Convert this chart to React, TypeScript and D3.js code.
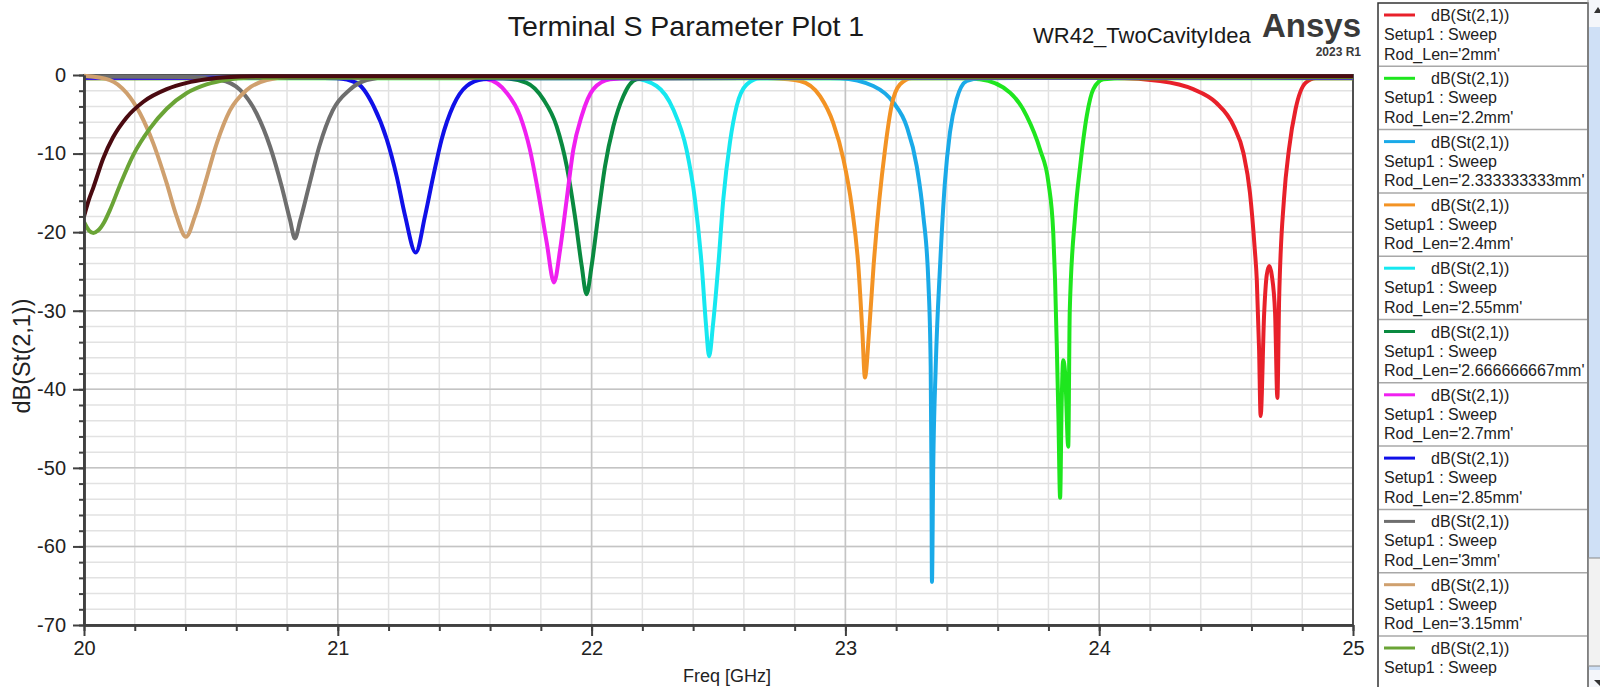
import React, { useEffect, useRef } from "react";
import * as d3 from "d3";

const width = 1600;
const height = 687;
const plotLeft = 84;
const plotRight = 1353;
const plotTop = 75;
const plotBottom = 625;
const font = "'Liberation Sans', Arial, sans-serif";

const freqTicks = [20, 21, 22, 23, 24, 25];
const dbTicks = [0, -10, -20, -30, -40, -50, -60, -70];

// [Freq GHz, dB(St(2,1))]
const rod2mm = [
  [20, -0.4], [24.07, -0.38], [24.24, -0.76], [24.37, -1.8], [24.46, -3.5], [24.53, -6.5],
  [24.568, -9.9], [24.594, -15], [24.613, -22.2], [24.621, -26.1], [24.63, -35], [24.636, -43.4],
  [24.65, -30.3], [24.66, -25.5], [24.67, -24.3], [24.68, -25.5], [24.693, -30.3], [24.702, -41.1],
  [24.709, -28.5], [24.728, -15.8], [24.748, -9.4], [24.774, -4.3], [24.813, -1.0], [24.853, -0.4],
  [25, -0.4],
];
const rod2p2mm = [
  [20, -0.4], [23.45, -0.4], [23.53, -0.55], [23.649, -2.25], [23.714, -5.2], [23.767, -9.5],
  [23.8, -13.7], [23.819, -20.1], [23.826, -26], [23.833, -34.6], [23.839, -43], [23.846, -53.8],
  [23.852, -42], [23.858, -36.3], [23.866, -38], [23.878, -47.3], [23.884, -30], [23.905, -18],
  [23.925, -11.6], [23.951, -5.2], [23.977, -1.8], [24.017, -0.55], [24.1, -0.4], [25, -0.4],
];
const rod2p333mm = [
  [20, -0.35], [22.9, -0.35], [22.979, -0.4], [23.11, -1.4], [23.189, -3.5], [23.241, -6.5],
  [23.281, -11.6], [23.307, -17.9], [23.327, -26.4], [23.336, -37], [23.339, -50], [23.341, -64.5],
  [23.346, -50], [23.356, -37], [23.373, -24.3], [23.392, -13.7], [23.412, -7.3], [23.438, -3.1],
  [23.478, -0.76], [23.53, -0.4], [25, -0.35],
];
const rod2p4mm = [
  [20, -0.35], [22.65, -0.35], [22.716, -0.4], [22.821, -0.76], [22.9, -2.7], [22.952, -6.1],
  [22.992, -10.7], [23.025, -16.7], [23.051, -24.3], [23.067, -32.8], [23.077, -38.5], [23.093, -32.8],
  [23.111, -24.3], [23.134, -15.8], [23.156, -9.5], [23.182, -3.9], [23.215, -1.2], [23.261, -0.4],
  [25, -0.35],
];
const rod2p55mm = [
  [20, -0.35], [22.1, -0.35], [22.164, -0.4], [22.256, -1.4], [22.322, -4.4], [22.374, -9.5],
  [22.407, -15.8], [22.434, -24.3], [22.451, -31.9], [22.463, -35.8], [22.478, -31.9], [22.499, -24.3],
  [22.519, -15.8], [22.545, -8.6], [22.572, -3.9], [22.611, -1.2], [22.664, -0.4], [25, -0.35],
];
const rod2p667mm = [
  [20, -0.35], [21.6, -0.35], [21.652, -0.4], [21.744, -1.0], [21.81, -3.1], [21.862, -6.5],
  [21.902, -11.6], [21.934, -17.9], [21.961, -24.3], [21.98, -27.9], [22.0, -24.3], [22.026, -17.9],
  [22.053, -11.6], [22.086, -6.5], [22.125, -2.7], [22.178, -0.55], [22.25, -0.4], [25, -0.35],
];
const rod2p7mm = [
  [20, -0.35], [21.5, -0.35], [21.587, -0.55], [21.665, -2.25], [21.718, -5.2], [21.757, -9.5],
  [21.79, -15], [21.823, -21.3], [21.852, -26.4], [21.876, -22.2], [21.902, -15.8], [21.928, -9.5],
  [21.961, -5.2], [22.007, -1.8], [22.073, -0.55], [22.15, -0.4], [25, -0.35],
];
const rod2p85mm = [
  [20, -0.35], [20.9, -0.35], [20.996, -0.4], [21.074, -1.0], [21.14, -3.9], [21.193, -8.2],
  [21.232, -12.9], [21.265, -17.9], [21.307, -22.6], [21.344, -17.9],
  [21.376, -12.9], [21.409, -8.2], [21.455, -3.9], [21.508, -1.4], [21.573, -0.55], [21.65, -0.4],
  [25, -0.35],
];
const rod3mm = [
  [20, -0.2], [20.4, -0.25], [20.536, -0.64], [20.615, -1.9], [20.68, -4.9], [20.733, -9.1],
  [20.779, -14.2], [20.812, -18.5], [20.831, -20.8], [20.852, -18.5], [20.886, -14.2], [20.927, -9.1],
  [20.98, -4.5], [21.046, -1.9], [21.114, -0.64], [21.206, -0.25], [25, -0.25],
];
const rod3p15mm = [
  [20, -0.1], [20.102, -0.64], [20.168, -2.3], [20.221, -4.9], [20.273, -8.7], [20.326, -13.8],
  [20.365, -18], [20.402, -20.6], [20.437, -18], [20.477, -13.8],
  [20.523, -8.7], [20.575, -4.5], [20.641, -1.9], [20.72, -0.64], [20.812, -0.25], [25, -0.25],
];
const rodOlive = [
  [20, -18.7], [20.02, -19.8], [20.037, -20.1], [20.055, -19.8], [20.08, -18.7], [20.102, -17.2],
  [20.142, -14.0], [20.194, -10.2], [20.26, -6.8], [20.326, -4.3], [20.405, -2.3], [20.483, -1.2],
  [20.562, -0.6], [20.65, -0.35], [25, -0.3],
];
const rodMaroon = [
  [20, -18], [20.02, -15.8], [20.037, -14.3], [20.076, -10.6], [20.115, -7.9], [20.168, -5.4],
  [20.234, -3.4], [20.326, -1.8], [20.405, -1.0], [20.483, -0.55], [20.56, -0.3], [20.7, -0.15],
  [25, -0.15],
];

const series = [rod2mm, rod2p2mm, rod2p333mm, rod2p4mm, rod2p55mm, rod2p667mm, rod2p7mm, rod2p85mm, rod3mm, rod3p15mm, rodOlive, rodMaroon];
const colors = ["#e8202a", "#1ee61e", "#1aaae8", "#f39324", "#16e8f0", "#0a8a40", "#f020f0", "#1010e8", "#6e6e6e", "#cfa06e", "#6aa436", "#4a0a10"];
const rodLens = ["Rod_Len='2mm'", "Rod_Len='2.2mm'", "Rod_Len='2.333333333mm'", "Rod_Len='2.4mm'", "Rod_Len='2.55mm'", "Rod_Len='2.666666667mm'", "Rod_Len='2.7mm'", "Rod_Len='2.85mm'", "Rod_Len='3mm'", "Rod_Len='3.15mm'"];
const legendCount = 11;

const App = () => {
  const ref = useRef(null);

  useEffect(() => {
    const svg = d3.select(ref.current);
    svg.selectAll("*").remove();

    const x = d3.scaleLinear().domain([20, 25]).range([plotLeft, plotRight]);
    const y = d3.scaleLinear().domain([-70, 0]).range([plotBottom, plotTop]);

    svg.append("rect").attr("width", width).attr("height", height).attr("fill", "#fff");

    // grid
    const grid = svg.append("g");
    grid.selectAll(".xm").data(x.ticks(25)).join("line")
      .attr("x1", (d) => x(d)).attr("x2", (d) => x(d))
      .attr("y1", plotTop).attr("y2", plotBottom)
      .attr("stroke", "#e2e2e2").attr("stroke-width", 1.5);
    grid.selectAll(".ym").data(y.ticks(35)).join("line")
      .attr("x1", plotLeft).attr("x2", plotRight)
      .attr("y1", (d) => y(d)).attr("y2", (d) => y(d))
      .attr("stroke", "#e2e2e2").attr("stroke-width", 1.5);
    grid.selectAll(".xM").data(freqTicks).join("line")
      .attr("x1", (d) => x(d)).attr("x2", (d) => x(d))
      .attr("y1", plotTop).attr("y2", plotBottom)
      .attr("stroke", "#c4c4c4").attr("stroke-width", 1.5);
    grid.selectAll(".yM").data(dbTicks).join("line")
      .attr("x1", plotLeft).attr("x2", plotRight)
      .attr("y1", (d) => y(d)).attr("y2", (d) => y(d))
      .attr("stroke", "#c4c4c4").attr("stroke-width", 1.5);

    // frame
    svg.append("rect")
      .attr("x", plotLeft).attr("y", plotTop)
      .attr("width", plotRight - plotLeft).attr("height", plotBottom - plotTop)
      .attr("fill", "none").attr("stroke", "#505050").attr("stroke-width", 2);

    // curves
    svg.append("clipPath").attr("id", "plotClip")
      .append("rect").attr("x", plotLeft).attr("y", plotTop - 3)
      .attr("width", plotRight - plotLeft).attr("height", plotBottom - plotTop + 3);

    const line = d3.line()
      .x((d) => x(d[0]))
      .y((d) => y(d[1]))
      .curve(d3.curveMonotoneX);

    svg.append("g").attr("clip-path", "url(#plotClip)")
      .selectAll("path").data(series).join("path")
      .attr("d", (d) => line(d))
      .attr("fill", "none")
      .attr("stroke", (d, i) => colors[i])
      .attr("stroke-width", 4)
      .attr("stroke-linejoin", "round");

    // axes
    const styleAxis = (g, size) => {
      g.select(".domain").attr("stroke", "#404040").attr("stroke-width", 2.5);
      g.selectAll(".tick line").attr("stroke", "#404040").attr("stroke-width", 2);
      g.selectAll(".tick text").attr("fill", "#222").attr("font-size", size).attr("font-family", font);
    };

    svg.append("g").attr("transform", `translate(${plotLeft},0)`)
      .call(d3.axisLeft(y).tickValues(y.ticks(35)).tickSize(5).tickSizeOuter(0).tickFormat(() => ""))
      .call((g) => styleAxis(g, 20));
    svg.append("g").attr("transform", `translate(${plotLeft},0)`)
      .call(d3.axisLeft(y).tickValues(dbTicks).tickSize(11).tickSizeOuter(0).tickPadding(7).tickFormat((d) => String(d)))
      .call((g) => styleAxis(g, 20));
    svg.append("g").attr("transform", `translate(0,${plotBottom})`)
      .call(d3.axisBottom(x).tickValues(x.ticks(25)).tickSize(6).tickSizeOuter(0).tickFormat(() => ""))
      .call((g) => styleAxis(g, 20));
    svg.append("g").attr("transform", `translate(0,${plotBottom})`)
      .call(d3.axisBottom(x).tickValues(freqTicks).tickSize(11).tickSizeOuter(0).tickPadding(5).tickFormat((d) => String(d)))
      .call((g) => styleAxis(g, 20));

    // axis titles
    svg.append("text").attr("x", 727).attr("y", 682)
      .attr("text-anchor", "middle").attr("font-size", 18).attr("font-family", font).attr("fill", "#222")
      .text("Freq [GHz]");
    svg.append("text").attr("transform", "translate(30,356) rotate(-90)")
      .attr("text-anchor", "middle").attr("font-size", 23.5).attr("font-family", font).attr("fill", "#222")
      .text("dB(St(2,1))");

    // titles
    svg.append("text").attr("x", 686).attr("y", 36)
      .attr("text-anchor", "middle").attr("font-size", 28.5).attr("font-family", font).attr("fill", "#1a1a1a")
      .text("Terminal S Parameter Plot 1");
    svg.append("text").attr("x", 1033).attr("y", 43)
      .attr("font-size", 22).attr("font-family", font).attr("fill", "#1a1a1a")
      .text("WR42_TwoCavityIdea");
    svg.append("text").attr("x", 1361).attr("y", 37).attr("text-anchor", "end")
      .attr("font-size", 33).attr("font-weight", "bold").attr("font-family", font).attr("fill", "#3a3a3a")
      .text("Ansys");
    svg.append("text").attr("x", 1361).attr("y", 56).attr("text-anchor", "end")
      .attr("font-size", 12).attr("font-weight", "bold").attr("font-family", font).attr("fill", "#3a3a3a")
      .text("2023 R1");

    // legend
    const leg = svg.append("g");
    const rowH = 63.3;
    leg.append("rect").attr("x", 1378).attr("y", 3).attr("width", 210).attr("height", height)
      .attr("fill", "#fff").attr("stroke", "#333").attr("stroke-width", 1.5);
    const rows = leg.selectAll(".row").data(d3.range(legendCount)).join("g")
      .attr("transform", (i) => `translate(0,${3 + i * rowH})`);
    rows.append("line").attr("x1", 1384).attr("x2", 1415).attr("y1", 12).attr("y2", 12)
      .attr("stroke", (i) => colors[i]).attr("stroke-width", 3);
    rows.append("text").attr("x", 1431).attr("y", 18).text("dB(St(2,1))");
    rows.append("text").attr("x", 1384).attr("y", 37).text("Setup1 : Sweep");
    rows.filter((i) => rodLens[i] !== undefined)
      .append("text").attr("x", 1384).attr("y", 56.5).text((i) => rodLens[i]);
    rows.selectAll("text").attr("font-size", 16).attr("font-family", font).attr("fill", "#222");
    rows.filter((i) => i < legendCount - 1)
      .append("line").attr("x1", 1379).attr("x2", 1587).attr("y1", rowH).attr("y2", rowH)
      .attr("stroke", "#a8a8a8").attr("stroke-width", 1.5);

    // scrollbar
    leg.append("rect").attr("x", 1589).attr("y", 0).attr("width", 11).attr("height", height).attr("fill", "#cfe0f6");
    leg.append("rect").attr("x", 1589).attr("y", 0).attr("width", 11).attr("height", 27).attr("fill", "#f4f6fa");
    leg.append("path").attr("d", "M1594,13 L1598,7 L1600,10 L1600,13 Z").attr("fill", "#333");
    leg.append("rect").attr("x", 1588.5).attr("y", 558).attr("width", 12).attr("height", 108)
      .attr("fill", "#f2f2f2").attr("stroke", "#888").attr("stroke-width", 1);
    leg.append("rect").attr("x", 1589).attr("y", 670).attr("width", 11).attr("height", 17).attr("fill", "#f4f6fa");
    leg.append("path").attr("d", "M1594,680 L1600,680 L1600,686 Z").attr("fill", "#333");
    leg.append("line").attr("x1", 1588).attr("x2", 1588).attr("y1", 0).attr("y2", height)
      .attr("stroke", "#9a9a9a").attr("stroke-width", 1);
  }, []);

  return (
    <div style={{ position: "absolute", left: 0, top: 0 }}>
      <svg ref={ref} width={width} height={height} style={{ display: "block" }}></svg>
    </div>
  );
};

export default App;
